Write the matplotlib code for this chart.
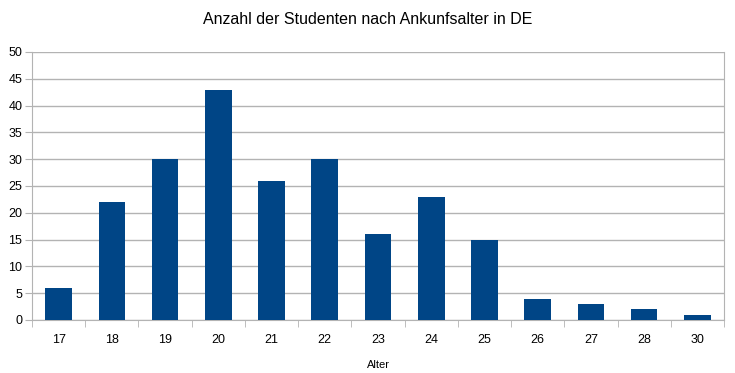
import matplotlib.pyplot as plt
import numpy as np

plt.rcParams['font.family'] = ['Liberation Sans', 'DejaVu Sans']

alter = ["17", "18", "19", "20", "21", "22", "23", "24", "25", "26", "27", "28", "30"]
anzahl = [6, 22, 30, 43, 26, 30, 16, 23, 15, 4, 3, 2, 1]

fig = plt.figure(figsize=(7.35, 3.73), dpi=100)
ax = fig.add_axes([32/735, 53/373, 692/735, 268/373])

x = np.arange(len(alter))
ax.bar(x, anzahl, width=0.5, color="#004586", zorder=3)

ax.set_xlim(-0.5, len(alter) - 0.5)
ax.set_ylim(0, 50)
ax.set_yticks(range(0, 51, 5))
ax.set_xticks(x)
ax.set_xticklabels(alter, fontsize=9)
ax.set_xticks(np.arange(-0.5, len(alter), 1), minor=True)
ax.tick_params(axis="x", which="major", length=0, pad=10)
ax.tick_params(axis="x", which="minor", length=5, color="#b3b3b3", direction="out")
ax.tick_params(axis="y", length=5, color="#b3b3b3", labelsize=9, pad=2)

ax.grid(axis="y", color="#b3b3b3", linewidth=1, zorder=0)
for s in ["left", "bottom", "right"]:
    ax.spines[s].set_color("#b3b3b3")
ax.spines["top"].set_visible(False)

# title is centred on the whole figure, not on the axes
fig.suptitle("Anzahl der Studenten nach Ankunfsalter in DE", fontsize=11.5,
             x=0.5, y=1 - 20/373, va="center")
ax.set_xlabel("Alter", fontsize=8, labelpad=10)

fig.savefig("out.png")
